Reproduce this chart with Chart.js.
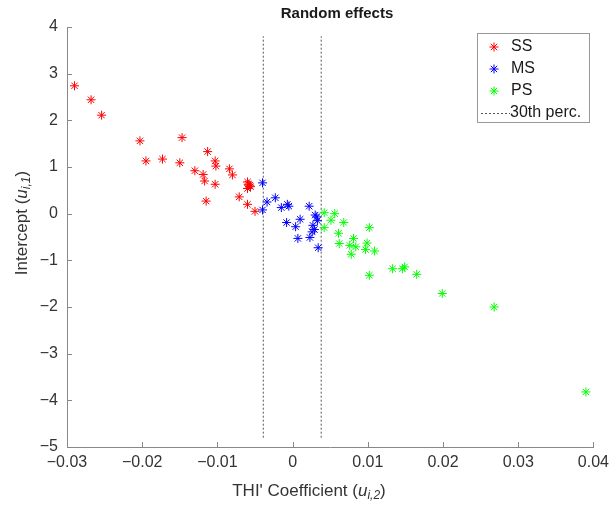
<!DOCTYPE html>
<html>
<head>
<meta charset="utf-8">
<script src="https://cdn.jsdelivr.net/npm/chart.js@4.4.1/dist/chart.umd.min.js"></script>
<style>
html,body{margin:0;padding:0;background:#fff}
#wrap{width:615px;height:506px}
</style>
</head>
<body>
<div id="wrap"><canvas id="c" width="615" height="506"></canvas></div>
<script>
// values
const ssX = [-0.0290,-0.0268,-0.0254,-0.0203,-0.0147,-0.0195,-0.0173,-0.0150,-0.0113,-0.0103,-0.0102,-0.0130,-0.0119,-0.0117,-0.0103,-0.0115,-0.0084,-0.0080,-0.0060,-0.0057,-0.0060,-0.0056,-0.0059,-0.0071,-0.0060,-0.0050];
const ssY = [2.74,2.44,2.11,1.56,1.63,1.13,1.17,1.09,1.33,1.13,1.02,0.92,0.84,0.70,0.63,0.27,0.96,0.83,0.68,0.61,0.54,0.58,0.63,0.36,0.20,0.05];

const msX = [-0.0040,-0.0040,-0.0034,-0.0023,-0.0015,-0.0007,-0.0005,-0.0008,0.0004,0.0010,0.0007,0.0022,0.0030,0.0032,0.0027,0.0029,0.0026,0.0023,0.0033,0.0034];
const msY = [0.66,0.08,0.25,0.34,0.13,0.20,0.16,-0.19,-0.28,-0.12,-0.53,0.16,-0.03,-0.07,-0.25,-0.34,-0.39,-0.51,-0.15,-0.73];

const psX = [0.0042,0.0056,0.0051,0.0042,0.0068,0.0061,0.0102,0.0062,0.0081,0.0076,0.0078,0.0084,0.0099,0.0097,0.0109,0.0102,0.0133,0.0146,0.0149,0.0165,0.0199,0.0268,0.0390];
const psY = [0.02,0.00,-0.14,-0.30,-0.19,-0.42,-0.30,-0.64,-0.53,-0.68,-0.87,-0.71,-0.63,-0.77,-0.80,-1.32,-1.18,-1.18,-1.14,-1.30,-1.71,-2.00,-3.82];

const percX = [-0.0039, 0.0038];     // 30th percentile lines
const percYRange = [-4.8, 3.8];

const groups = ['SS','MS','PS'];
const groupCol = ['#ff0000','#0000ff','#00ff00'];
const xRange = [-0.03, 0.04], yRange = [-5, 4];

const FONT = '"Liberation Sans", Arial, Helvetica, sans-serif';
const pts = (xs, ys) => xs.map((x,i)=>({x:x, y:ys[i]}));

const datasets = [[ssX,ssY],[msX,msY],[psX,psY]].map((d,i)=>({
    label: groups[i], data: pts(d[0],d[1]),
    pointStyle:'star', pointRadius:4.5, pointBorderWidth:1,
    borderColor: groupCol[i], backgroundColor: groupCol[i], showLine:false
}));
percX.forEach((x,i)=>datasets.push({
    label: i===0 ? '30th perc.' : '', data: percYRange.map(y=>({x:x,y:y})),
    showLine:true, borderColor:'#555', borderWidth:1, borderDash:[2,2], pointRadius:0
}));

// rich text (italic u with subscript)
function richParts(ctx, parts) {
    let w=0;
    parts.forEach(p=>{ ctx.font=p.f; p.w=ctx.measureText(p.t).width; w+=p.w; });
    return w;
}
function drawRich(ctx, parts, cx, cy) {
    const w=richParts(ctx, parts);
    let x=cx-w/2;
    ctx.textBaseline='middle'; ctx.textAlign='left';
    parts.forEach(p=>{ ctx.font=p.f; ctx.fillText(p.t, x, cy+(p.dy||0)); x+=p.w; });
}

const deco = {
    id:'deco',
    afterDraw(ch) {
        const ctx=ch.ctx, a=ch.chartArea, sx=ch.scales.x, sy=ch.scales.y;
        ctx.save();
        // inward ticks
        ctx.strokeStyle='#888'; ctx.lineWidth=1;
        ctx.beginPath();
        sx.ticks.forEach(t=>{ const p=Math.round(sx.getPixelForValue(t.value))+0.5; ctx.moveTo(p,a.bottom); ctx.lineTo(p,a.bottom-5); });
        sy.ticks.forEach(t=>{ const p=Math.round(sy.getPixelForValue(t.value))+0.5; ctx.moveTo(a.left,p); ctx.lineTo(a.left+5,p); });
        ctx.stroke();

        // title
        ctx.fillStyle='#1a1a1a'; ctx.textAlign='center'; ctx.textBaseline='middle';
        ctx.font='bold 15px '+FONT;
        ctx.fillText('Random effects', 337, 14);

        // axis titles
        ctx.fillStyle='#333';
        const f='17px '+FONT, fi='italic 17px '+FONT, fs='italic 12px '+FONT;
        drawRich(ctx, [{t:"THI' Coefficient (",f:f},{t:'u',f:fi},{t:'i,2',f:fs,dy:5},{t:')',f:f}], 309, 491);
        ctx.save();
        ctx.translate(22,223); ctx.rotate(-Math.PI/2);
        drawRich(ctx, [{t:'Intercept (',f:f},{t:'u',f:fi},{t:'i,1',f:fs,dy:5},{t:')',f:f}], 0, 0);
        ctx.restore();

        // legend box
        const lx=477.5, ly=33.5, lw=112, lh=89;
        ctx.fillStyle='#fff'; ctx.fillRect(lx,ly,lw,lh);
        ctx.strokeStyle='#999'; ctx.strokeRect(lx,ly,lw,lh);
        ctx.font='16px '+FONT; ctx.textAlign='left'; ctx.textBaseline='middle';
        const rows=[47,69,91,113];
        groups.forEach((g,i)=>{
            ctx.strokeStyle=groupCol[i]; ctx.fillStyle=groupCol[i];
            Chart.helpers.drawPoint(ctx,{pointStyle:'star',radius:4.5,borderWidth:1},494,rows[i]);
            ctx.fillStyle='#1a1a1a'; ctx.fillText(g,511,rows[i]);
        });
        ctx.strokeStyle='#555'; ctx.setLineDash([2,2]);
        ctx.beginPath(); ctx.moveTo(481,rows[3]+0.5); ctx.lineTo(510,rows[3]+0.5); ctx.stroke();
        ctx.setLineDash([]);
        ctx.fillStyle='#1a1a1a'; ctx.fillText('30th perc.',510,rows[3]);
        ctx.restore();
    }
};

const fmt = v => { const r=Math.round(v*100)/100; return r===0?'0':String(r).replace('-','\u2212'); };

new Chart(document.getElementById('c'), {
    type:'scatter',
    data:{datasets:datasets},
    options:{
        responsive:false, devicePixelRatio:1, animation:false,
        layout:{padding:{top:27,right:17,left:0,bottom:0}},
        plugins:{legend:{display:false}, tooltip:{enabled:false}, title:{display:false}},
        scales:{
            x:{min:xRange[0], max:xRange[1],
               ticks:{stepSize:0.01, color:'#333', font:{family:FONT,size:16}, padding:6, callback:v=>fmt(v), maxRotation:0},
               grid:{display:false, drawTicks:false},
               border:{display:true, color:'#888', width:1},
               afterFit:s=>{ s.height=59; }},
            y:{min:yRange[0], max:yRange[1],
               ticks:{stepSize:1, color:'#333', font:{family:FONT,size:16}, padding:9, callback:v=>String(v).replace('-','\u2212')},
               grid:{display:false, drawTicks:false},
               border:{display:true, color:'#888', width:1},
               afterFit:s=>{ s.width=67; }}
        }
    },
    plugins:[deco]
});
</script>
</body>
</html>
